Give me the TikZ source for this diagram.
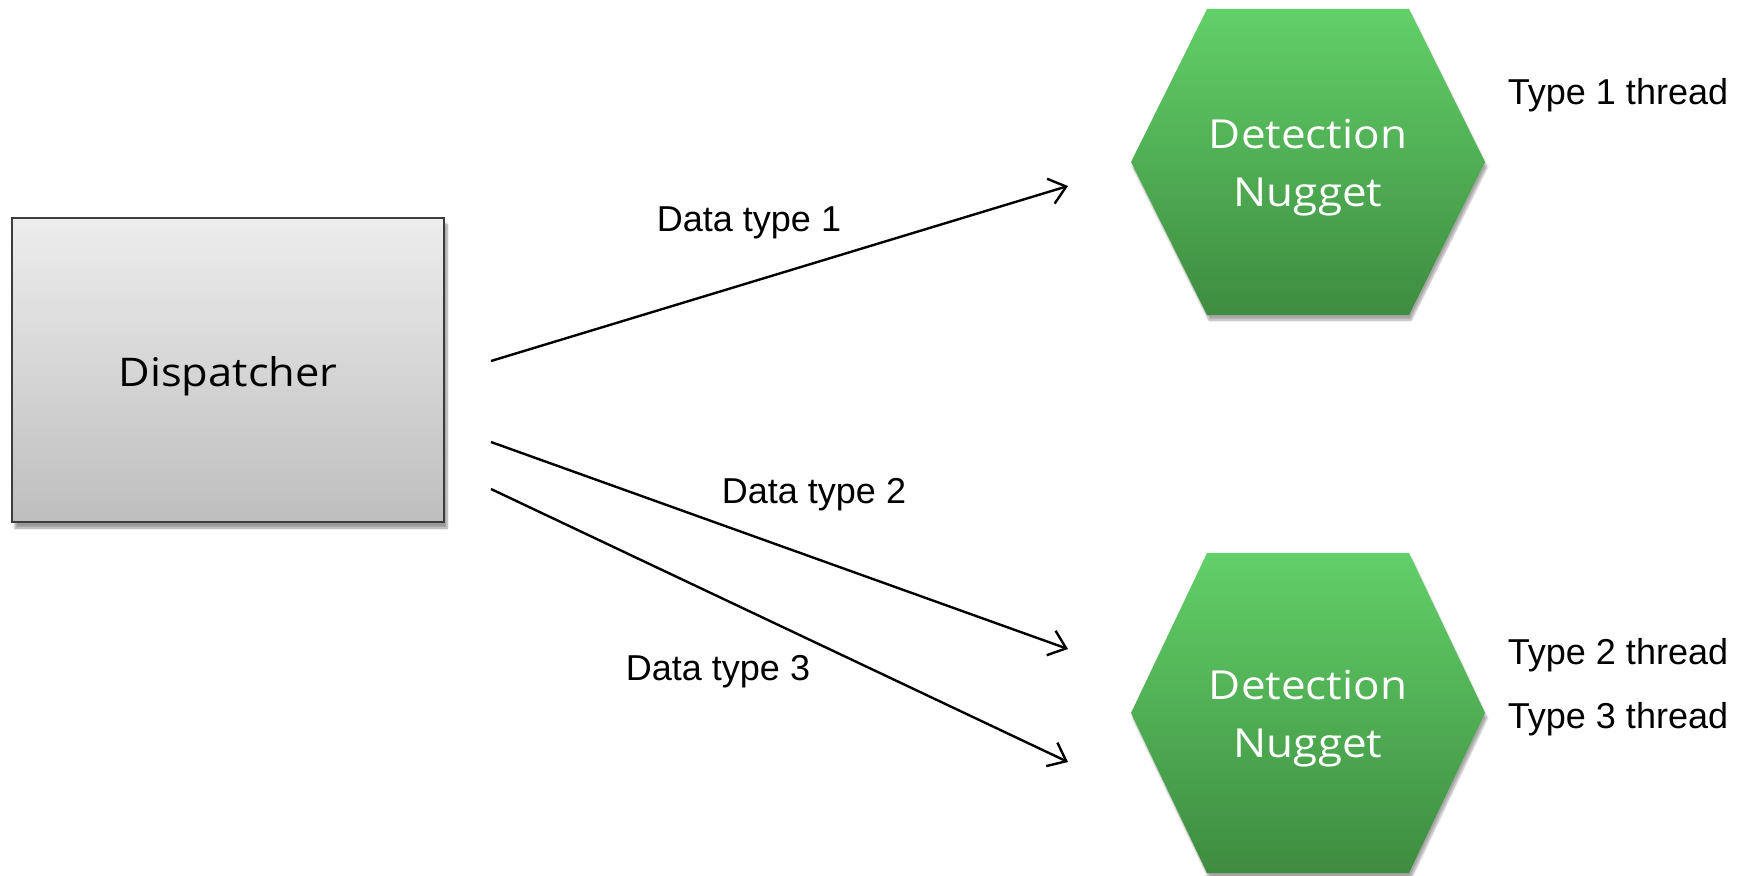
\documentclass[tikz,border=0pt]{standalone}
\usepackage{fontspec}
\setmainfont{Liberation Sans}
\newfontfamily\shapefont{Open Sans}[FakeStretch=1.1]
\usetikzlibrary{shapes.geometric,arrows.meta,shadows.blur}

\definecolor{greentop}{RGB}{98,208,104}
\definecolor{greenbot}{RGB}{62,140,64}
\definecolor{graytop}{RGB}{237,237,237}
\definecolor{graybot}{RGB}{190,190,190}
\definecolor{boxedge}{RGB}{60,60,60}

\tikzset{
  dispbox/.style={rectangle, draw=boxedge, line width=1.5pt,
    top color=graytop, bottom color=graybot,
    minimum width=432pt, minimum height=304pt, inner sep=0pt,
    text height=32pt, text depth=0pt,
    blur shadow={shadow xshift=3pt, shadow yshift=-6pt, shadow blur steps=8, shadow opacity=40},
    font=\shapefont\fontsize{39.5}{48}\selectfont, text=black},
  nuggetfill/.style={top color=greentop, bottom color=greenbot,
    blur shadow={shadow xshift=2pt, shadow yshift=-5pt, shadow blur steps=8, shadow opacity=35}},
  nugget/.style={inner sep=0pt, align=center, text=white,
    font=\shapefont\fontsize{40}{58}\selectfont},
  label/.style={font=\fontsize{36}{40}\selectfont, text=black, inner sep=0pt},
  flow/.style={line width=2.4pt, -{Straight Barb[length=16pt,width=26pt,line width=2.4pt]}}
}

\begin{document}
\begin{tikzpicture}[x=1pt,y=-1pt]
  \useasboundingbox (0,0) rectangle (1744,875);

  % hexagon bodies: centre x, centre y, half height
  \foreach \cx/\cy/\h in {1308/162/153, 1308/713/160}{
    \path[nuggetfill] (\cx-177,\cy) -- (\cx-101,\cy-\h) -- (\cx+101,\cy-\h)
      -- (\cx+177,\cy) -- (\cx+101,\cy+\h) -- (\cx-101,\cy+\h) -- cycle;
  }

  % boxes
  \node[dispbox] (disp) at (228,370) {Dispatcher};
  \node[nugget] (nug1) at (1308,168) {Detection\\Nugget};
  \node[nugget] (nug2) at (1308,719) {Detection\\Nugget};

  % free ends of the data flows
  \coordinate (s1) at (491,361);
  \coordinate (e1) at (1068,186);
  \coordinate (s2) at (491,442);
  \coordinate (e2) at (1068,649);
  \coordinate (s3) at (491,489);
  \coordinate (e3) at (1068,762);

  \draw[flow] (s1) -- (e1);
  \draw[flow] (s2) -- (e2);
  \draw[flow] (s3) -- (e3);

  % flow labels
  \node[label] (l1) at (749,223) {Data type 1};
  \node[label] (l2) at (814,495) {Data type 2};
  \node[label] (l3) at (718,672) {Data type 3};

  % thread labels
  \node[label] (t1) at (1618,95) {Type 1 thread};
  \node[label] (t2) at (1618,655) {Type 2 thread};
  \node[label] (t3) at (1618,719) {Type 3 thread};
\end{tikzpicture}
\end{document}
